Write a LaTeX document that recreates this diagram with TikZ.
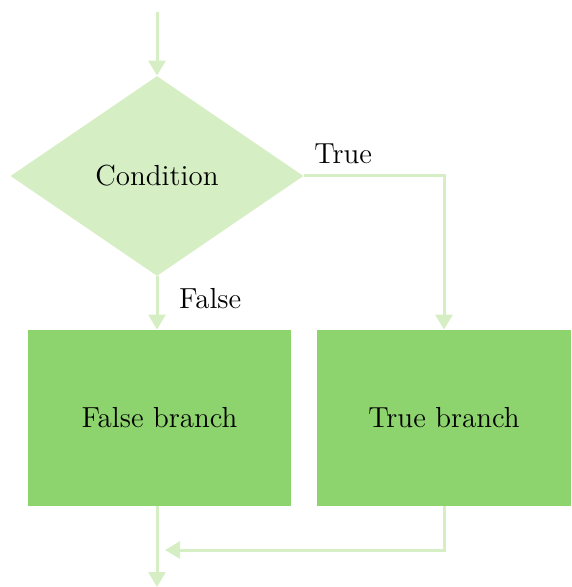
\documentclass[tikz,border=0pt]{standalone}
\usetikzlibrary{shapes.geometric,arrows.meta,positioning}
\definecolor{palegreen}{RGB}{213,238,196}
\definecolor{branchgreen}{RGB}{141,211,110}
\begin{document}
\begin{tikzpicture}[x=0.5pt, y=-0.5pt, font=\fontsize{14.5}{17}\selectfont,
  flow/.style = {draw=palegreen, line width=1.5pt, -{Triangle[width=8.5pt,length=7.5pt]}},
  decision/.style = {diamond, fill=palegreen, inner sep=0pt, minimum width=146.5pt, minimum height=100pt},
  branch/.style = {rectangle, fill=branchgreen, inner sep=0pt, minimum height=88pt}]
  \useasboundingbox (0,0) rectangle (571,587);
  \coordinate (start) at (157,12);
  \coordinate (join) at (165,550);
  \coordinate (stop) at (157,587);
  \node[decision] (cond) at (157,176) {Condition};
  \node[branch, minimum width=131.5pt] (falsebr) at (159.5,418) {False branch};
  \node[branch, minimum width=127pt] (truebr) at (444,418) {True branch};
  % arrows
  \draw[flow] (start) -- (cond.north);
  \draw[flow] (cond.south) -- (cond.south |- falsebr.north)
    node[pos=0.42, anchor=west, xshift=7pt] {False};
  \draw[flow] (cond.east) -| (truebr.north)
    node[pos=0.14, above=2pt] {True};
  \draw[flow] (truebr.south) |- (join);
  \draw[flow] (cond.south |- falsebr.south) -- (stop);
\end{tikzpicture}
\end{document}
